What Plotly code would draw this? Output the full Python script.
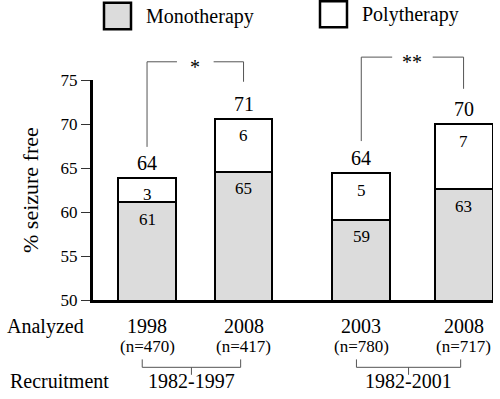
import plotly.graph_objects as go

# ---- data ----
years = ["1998", "2008", "2003", "2008"]
n_labels = ["(n=470)", "(n=417)", "(n=780)", "(n=717)"]
mono = [61.1, 64.6, 59.1, 62.6]
poly = [2.8, 6.0, 5.3, 7.4]
mono_text = ["61", "65", "59", "63"]
poly_text = ["3", "6", "5", "7"]
total_text = ["64", "71", "64", "70"]
recruit = ["1982-1997", "1982-2001"]
sig = ["*", "**"]

# layout constants
xpos = [1.0, 2.0, 3.22, 4.28]
FONT = "Liberation Serif"
YMIN, YMAX = 50, 75


def yp(v):
    return (v - YMIN) / (YMAX - YMIN)


def f(size):
    return dict(family=FONT, size=size, color="black")


def A(**kw):
    d = dict(showarrow=False, xanchor="center", yanchor="middle")
    d.update(kw)
    return d


fig = go.Figure()
fig.add_trace(go.Bar(x=xpos, y=mono, width=0.6, name="Monotherapy",
                     marker=dict(color="#dcdcdc", line=dict(color="black", width=2))))
fig.add_trace(go.Bar(x=xpos, y=poly, width=0.6, name="Polytherapy",
                     marker=dict(color="white", line=dict(color="black", width=2))))

ann = []
shapes = []
totals = [m + p for m, p in zip(mono, poly)]
for i, x in enumerate(xpos):
    ann.append(A(x=x, y=mono[i], xref="x", yref="y", text=mono_text[i], yshift=-17, font=f(17)))
    ann.append(A(x=x, y=totals[i], xref="x", yref="y", text=poly_text[i], yshift=-17, font=f(17)))
    ann.append(A(x=x, y=totals[i], xref="x", yref="y", text=total_text[i], yshift=15, font=f(20)))
    ann.append(A(x=x, y=-0.12, xref="x", yref="paper", text=years[i], font=f(20)))
    ann.append(A(x=x, y=-0.21, xref="x", yref="paper", text=n_labels[i], font=f(17)))

ann.append(A(x=-0.22, y=-0.12, xref="paper", yref="paper", text="Analyzed", xanchor="left", font=f(20)))
ann.append(A(x=-0.2125, y=-0.37, xref="paper", yref="paper", text="Recruitment", xanchor="left", font=f(20)))
ann.append(A(x=-0.1575, y=0.5, xref="paper", yref="paper", text="% seizure free", textangle=-90, font=f(22)))

line_c = "#555555"
# significance brackets
sig_pairs = [(0, 1), (2, 3)]
sig_top = [77.07, 77.6]
sig_left_bot = [67.4, 68.06]
sig_right_bot = [74.8, 74.0]
for k, (a, b) in enumerate(sig_pairs):
    xa, xb = xpos[a], xpos[b]
    mid = (xa + xb) / 2
    gap = 0.19 if k == 0 else 0.21
    t = yp(sig_top[k])
    shapes += [
        dict(type="line", xref="x", yref="paper", x0=xa, x1=xa, y0=yp(sig_left_bot[k]), y1=t,
             line=dict(color=line_c, width=1)),
        dict(type="line", xref="x", yref="paper", x0=xb, x1=xb, y0=yp(sig_right_bot[k]), y1=t,
             line=dict(color=line_c, width=1)),
        dict(type="line", xref="x", yref="paper", x0=xa, x1=mid - gap, y0=t, y1=t,
             line=dict(color=line_c, width=1)),
        dict(type="line", xref="x", yref="paper", x0=mid + gap, x1=xb, y0=t, y1=t,
             line=dict(color=line_c, width=1)),
    ]
    ann.append(A(x=mid, y=t, xref="x", yref="paper", text=sig[k], yshift=-5, font=f(20)))

# recruitment brackets
for k, (a, b) in enumerate(sig_pairs):
    xa, xb = xpos[a] - 0.05, xpos[b] - 0.03
    mid = (xa + xb) / 2
    y_h, y_up, y_dn = -0.306, -0.27, -0.34
    shapes += [
        dict(type="line", xref="x", yref="paper", x0=xa, x1=xb, y0=y_h, y1=y_h,
             line=dict(color=line_c, width=1)),
        dict(type="line", xref="x", yref="paper", x0=xa, x1=xa, y0=y_h, y1=y_up,
             line=dict(color=line_c, width=1)),
        dict(type="line", xref="x", yref="paper", x0=xb, x1=xb, y0=y_h, y1=y_up,
             line=dict(color=line_c, width=1)),
        dict(type="line", xref="x", yref="paper", x0=mid, x1=mid, y0=y_h, y1=y_dn,
             line=dict(color=line_c, width=1)),
    ]
    ann.append(A(x=mid, y=-0.37, xref="x", yref="paper", text=recruit[k], font=f(20)))

# legend (drawn)
shapes += [
    dict(type="rect", xref="paper", yref="paper", x0=0.0275, x1=0.095, y0=1.231, y1=1.351,
         fillcolor="#dcdcdc", line=dict(color="black", width=2.5)),
    dict(type="rect", xref="paper", yref="paper", x0=0.5675, x1=0.635, y0=1.240, y1=1.358,
         fillcolor="white", line=dict(color="black", width=2.5)),
]
ann.append(A(x=0.1275, y=1.29, xref="paper", yref="paper", text="Monotherapy", xanchor="left", font=f(20)))
ann.append(A(x=0.6675, y=1.299, xref="paper", yref="paper", text="Polytherapy", xanchor="left", font=f(20)))

fig.update_layout(
    barmode="stack",
    width=500, height=399,
    margin=dict(l=93, r=7, t=80, b=98.5),
    paper_bgcolor="white", plot_bgcolor="white",
    font=f(17),
    showlegend=False,
    annotations=ann,
    shapes=shapes,
    xaxis=dict(range=[0.44, 4.585], showticklabels=False, showgrid=False, zeroline=False,
               showline=True, linecolor="black", linewidth=3, ticks=""),
    yaxis=dict(range=[YMIN, YMAX], tickvals=[50, 55, 60, 65, 70, 75], showgrid=False,
               zeroline=False, showline=True, linecolor="black", linewidth=3,
               ticks="outside", ticklen=9, tickwidth=1, tickcolor="#333333",
               tickfont=f(17)),
)
fig.write_html("out.html", config={"displayModeBar": False},
               post_script="document.body.style.margin='0';")
